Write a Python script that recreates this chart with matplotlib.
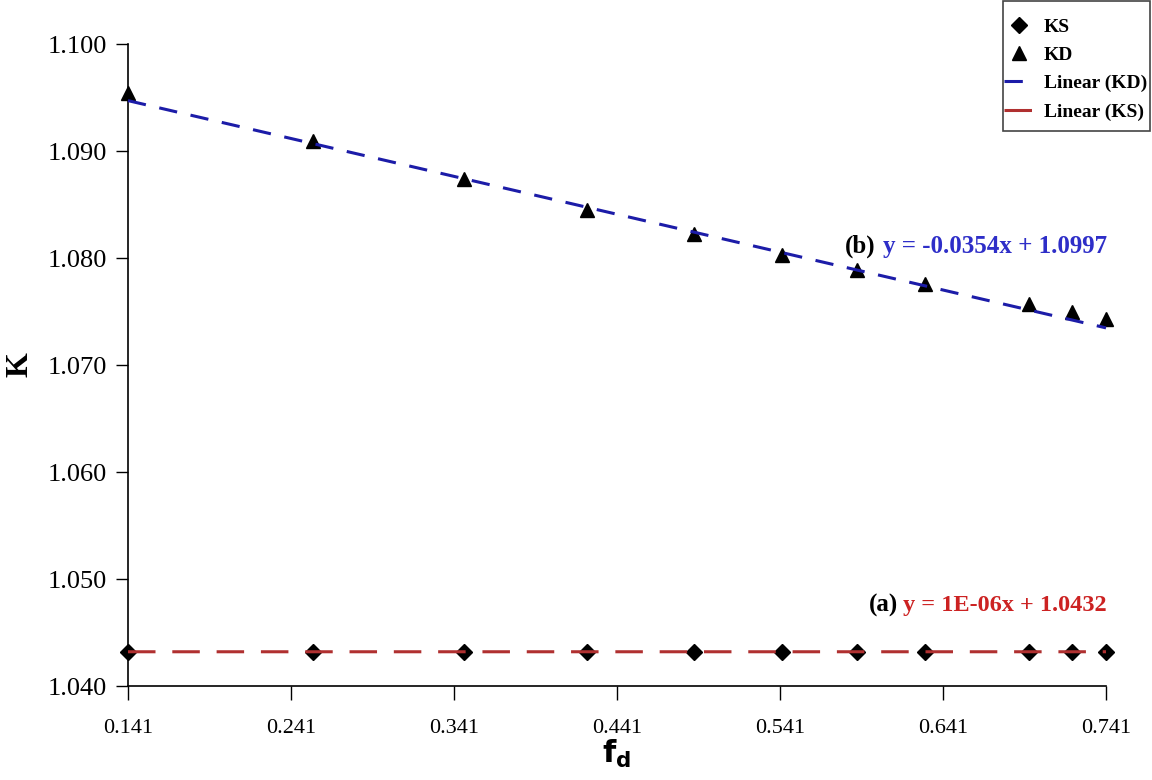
import matplotlib
matplotlib.use("Agg")
import matplotlib.pyplot as plt
from matplotlib.patches import Rectangle
import numpy as np

# ---- data ----
fd = [0.141, 0.2545, 0.347, 0.4226, 0.488, 0.542, 0.588, 0.630, 0.694, 0.720, 0.741]
KS = [1.0432, 1.0432, 1.0432, 1.0432, 1.0432, 1.0432, 1.0432, 1.0432, 1.0432, 1.0432, 1.0432]
KD = [1.0954, 1.0909, 1.0874, 1.0845, 1.0822, 1.0803, 1.0789, 1.0776, 1.0757, 1.0750, 1.0743]
fit_KD = [-0.0354, 1.0997]   # slope, intercept
fit_KS = [1e-06, 1.0432]
xticks = [0.141, 0.241, 0.341, 0.441, 0.541, 0.641, 0.741]
yticks = [1.040, 1.050, 1.060, 1.070, 1.080, 1.090, 1.100]

serif = "Liberation Serif"
plt.rcParams["font.family"] = serif

fig = plt.figure(figsize=(11.52, 7.80), dpi=100)
ax = fig.add_axes([128/1152, 1-686/780, (1106-128)/1152, (686-44)/780])

ax.plot(fd, KS, linestyle="none", marker="D", markersize=8, color="black",
        zorder=3, clip_on=False, label="KS")
ax.plot(fd, KD, linestyle="none", marker="^", markersize=10, color="black",
        zorder=3, clip_on=False, label="KD")

xl = np.array([fd[0], fd[-1]])
ax.plot(xl, fit_KD[0]*xl + fit_KD[1], color="#1c1ca8", linewidth=2.2,
        dashes=(6, 4.5), zorder=4, clip_on=False, label="Linear (KD)")
ax.plot(xl, fit_KS[0]*xl + fit_KS[1], color="#b03030", linewidth=2.2,
        dashes=(9, 5.5), zorder=4, clip_on=False, label="Linear (KS)")

ax.set_xlim(0.141, 0.741)
ax.set_ylim(1.040, 1.100)
ax.set_xticks(xticks)
ax.set_xticklabels([f"{v:.3f}" for v in xticks], fontsize=16, family=serif)
ax.set_yticks(yticks)
ax.set_yticklabels([f"{v:.3f}" for v in yticks], fontsize=19, family=serif)
ax.tick_params(axis="x", direction="out", length=10, width=1, pad=14)
ax.tick_params(axis="y", direction="out", length=9, width=1, pad=6)
ax.spines["top"].set_visible(False)
ax.spines["right"].set_visible(False)
for s in ("left", "bottom"):
    ax.spines[s].set_linewidth(1.2)

ax.set_xlabel(r"$\mathbf{f_d}$", fontsize=22, family="Liberation Sans", labelpad=0)
fig.text(20/1152, 1-365/780, "K", rotation=90, fontsize=23, fontweight="bold",
         family=serif, ha="center", va="center")

# equations
fig.text(876/1152, 1-246/780, "(b)", fontsize=18, fontweight="bold", family=serif,
         color="black", ha="right", va="center")
fig.text(1107/1152, 1-247/780, "y = -0.0354x + 1.0997", fontsize=18, fontweight="bold",
         family=serif, color="#2e2ec8", ha="right", va="center")
fig.text(898/1152, 1-605/780, "(a)", fontsize=18, fontweight="bold", family=serif,
         color="black", ha="right", va="center")
fig.text(1107/1152, 1-605/780, "y = 1E-06x + 1.0432", fontsize=17.5, fontweight="bold",
         family=serif, color="#cc2222", ha="right", va="center")

leg = fig.legend(loc="upper right", bbox_to_anchor=(1147/1152, 1-18/780),
                 prop={"family": serif, "weight": "bold", "size": 14},
                 frameon=False, handlelength=1.6, borderpad=0, labelspacing=0.55,
                 handletextpad=0.45, borderaxespad=0)

fig.canvas.draw()
bb = leg.get_window_extent().transformed(fig.transFigure.inverted())
padx0, padx1 = 1/1152, 3/1152
top_edge = 1 - 1/780
bottom_pad = 10/780
fig.add_artist(Rectangle((bb.x0 - padx0, bb.y0 - bottom_pad),
                         bb.width + padx0 + padx1, top_edge - (bb.y0 - bottom_pad),
                         transform=fig.transFigure, fill=False,
                         edgecolor="#444444", linewidth=1.2, zorder=5))

fig.savefig("out.png", dpi=100)
